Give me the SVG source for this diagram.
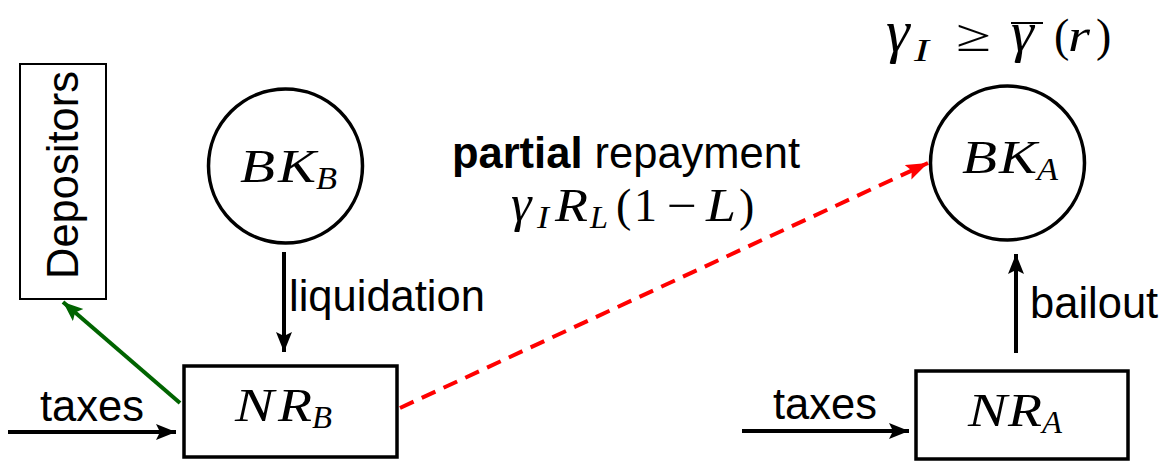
<svg xmlns="http://www.w3.org/2000/svg" width="1166" height="461" viewBox="0 0 1166 461">
<style>
.node{fill:#fff;stroke:#000;stroke-width:3.5}
.thin{fill:#fff;stroke:#000;stroke-width:2}
.lbl{font-family:"Liberation Sans",Arial,sans-serif;font-size:43.5px;fill:#000}
.math{font-family:"Liberation Serif","Times New Roman",serif;font-style:italic;font-size:46px;fill:#000}
.sub{font-size:31px}
.rm{font-style:normal}
.conn{fill:none;stroke-width:4}
</style>
<defs>
<marker id="ah" markerUnits="userSpaceOnUse" markerWidth="22" markerHeight="18" refX="20" refY="8" orient="auto"><path d="M0,0 L20,8 L0,16 L4,8 Z" fill="#000"/></marker>
<marker id="ahg" markerUnits="userSpaceOnUse" markerWidth="22" markerHeight="18" refX="20" refY="8" orient="auto"><path d="M0,0 L20,8 L0,16 L4,8 Z" fill="#006400"/></marker>
<marker id="ahr" markerUnits="userSpaceOnUse" markerWidth="24" markerHeight="18" refX="22" refY="8" orient="auto"><path d="M0,0 L22,8 L0,16 L4,8 Z" fill="#f00"/></marker>
</defs>
<rect width="1166" height="461" fill="#fff"/>

<g id="connectors">
<line class="conn" x1="8" y1="432" x2="176" y2="432" stroke="#000" marker-end="url(#ah)"/>
<line class="conn" x1="742" y1="431" x2="909" y2="431" stroke="#000" marker-end="url(#ah)"/>
<line class="conn" x1="284" y1="252" x2="284" y2="352" stroke="#000" marker-end="url(#ah)"/>
<line class="conn" x1="1016" y1="353" x2="1016" y2="254" stroke="#000" marker-end="url(#ah)"/>
<line class="conn" x1="180" y1="403" x2="63" y2="302" stroke="#006400" marker-end="url(#ahg)"/>
<line class="conn" x1="400" y1="408" x2="928" y2="163" stroke="#f00" stroke-dasharray="15 9" marker-end="url(#ahr)"/>
<text class="lbl" x="40" y="421">taxes</text>
<text class="lbl" x="773" y="419">taxes</text>
<text class="lbl" x="289" y="311">liquidation</text>
<text class="lbl" x="1030" y="318">bailout</text>
<text class="lbl" x="626" y="168" text-anchor="middle"><tspan font-weight="bold">partial</tspan> repayment</text>
<text class="math" y="221" font-size="44"><tspan x="511" font-size="52">γ</tspan><tspan class="sub" x="537" dy="7" textLength="12" lengthAdjust="spacingAndGlyphs">I</tspan><tspan x="555" dy="-7" textLength="33" lengthAdjust="spacingAndGlyphs">R</tspan><tspan class="sub" x="590" dy="7" textLength="18" lengthAdjust="spacingAndGlyphs">L</tspan><tspan class="rm" x="616" dy="-7">(</tspan><tspan class="rm" x="634">1</tspan><tspan class="rm" x="667" textLength="30" lengthAdjust="spacingAndGlyphs">−</tspan><tspan x="706" textLength="30" lengthAdjust="spacingAndGlyphs">L</tspan><tspan class="rm" x="739">)</tspan></text>
<text class="math" y="51" font-size="52"><tspan x="886" font-size="60">γ</tspan><tspan class="sub" font-size="36" x="914" dy="10" textLength="15" lengthAdjust="spacingAndGlyphs">I</tspan><tspan class="rm" x="956" dy="-10" textLength="35" lengthAdjust="spacingAndGlyphs">≥</tspan><tspan x="1011" font-size="58">γ</tspan><tspan class="rm" x="1054">(</tspan><tspan x="1068" textLength="22" lengthAdjust="spacingAndGlyphs">r</tspan><tspan class="rm" x="1096">)</tspan></text>
<line x1="1011" y1="23" x2="1043" y2="23" stroke="#000" stroke-width="2"/>
</g>

<g id="depositors">
<rect class="thin" x="20" y="64" width="86" height="235"/>
<text class="lbl" transform="translate(78,279) rotate(-90)">Depositors</text>
</g>

<g id="bkb">
<circle class="node" cx="285.5" cy="166" r="77"/>
<text class="math" y="182"><tspan x="240" textLength="35" lengthAdjust="spacingAndGlyphs">B</tspan><tspan x="278" textLength="38" lengthAdjust="spacingAndGlyphs">K</tspan><tspan class="sub" x="316" dy="7" textLength="21" lengthAdjust="spacingAndGlyphs">B</tspan></text>
</g>

<g id="nrb">
<rect class="node" x="184" y="366" width="213" height="91"/>
<text class="math" y="421"><tspan x="235" textLength="39" lengthAdjust="spacingAndGlyphs">N</tspan><tspan x="278" textLength="34" lengthAdjust="spacingAndGlyphs">R</tspan><tspan class="sub" x="312" dy="7" textLength="20" lengthAdjust="spacingAndGlyphs">B</tspan></text>
</g>

<g id="bka">
<circle class="node" cx="1007.5" cy="163" r="77"/>
<text class="math" y="173"><tspan x="962" textLength="35" lengthAdjust="spacingAndGlyphs">B</tspan><tspan x="999" textLength="38" lengthAdjust="spacingAndGlyphs">K</tspan><tspan class="sub" x="1037" dy="7" textLength="21" lengthAdjust="spacingAndGlyphs">A</tspan></text>
</g>

<g id="nra">
<rect class="node" x="916" y="371" width="212" height="88"/>
<text class="math" y="426"><tspan x="968" textLength="39" lengthAdjust="spacingAndGlyphs">N</tspan><tspan x="1008" textLength="34" lengthAdjust="spacingAndGlyphs">R</tspan><tspan class="sub" x="1042" dy="7" textLength="20" lengthAdjust="spacingAndGlyphs">A</tspan></text>
</g>
</svg>
